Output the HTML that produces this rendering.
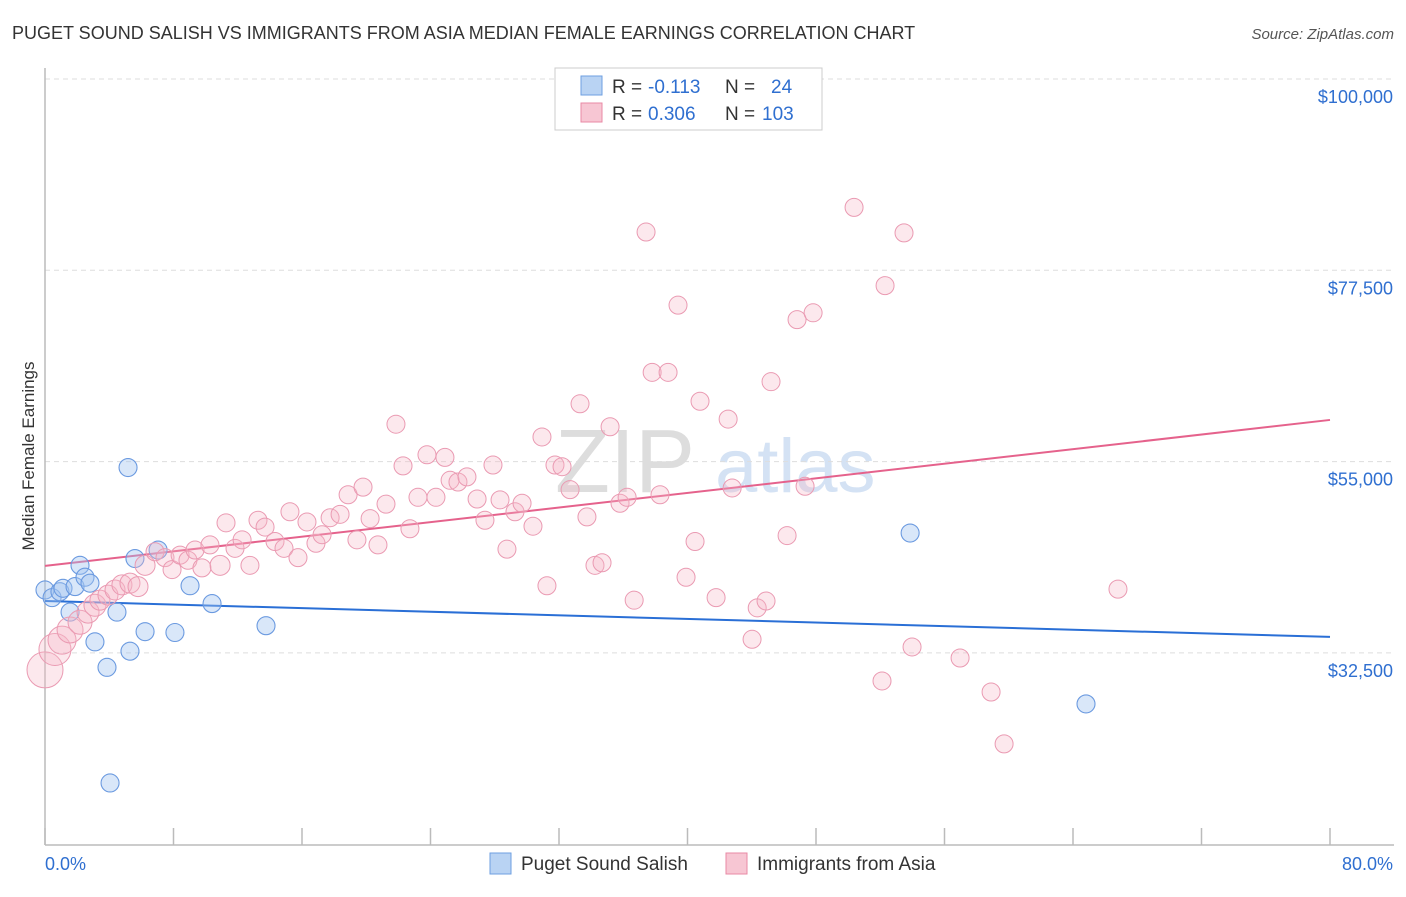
<!DOCTYPE html>
<html><head><meta charset="utf-8"><style>
body{margin:0;background:#fff;font-family:"Liberation Sans",sans-serif;}
svg text{font-family:"Liberation Sans",sans-serif;}
</style></head><body>
<svg id="chart" width="1406" height="892" xmlns="http://www.w3.org/2000/svg">
<text x="12" y="39" font-size="18" fill="#333">PUGET SOUND SALISH VS IMMIGRANTS FROM ASIA MEDIAN FEMALE EARNINGS CORRELATION CHART</text>
<text x="1394" y="39" font-size="15" fill="#555" text-anchor="end" font-style="italic">Source: ZipAtlas.com</text>
<text transform="translate(34,456) rotate(-90)" font-size="17" fill="#333" text-anchor="middle">Median Female Earnings</text>
<g><text x="555" y="492" font-size="90" fill="#ddd" font-family="Liberation Serif">ZIP</text><text x="715" y="492" font-size="76" fill="#d4e2f4">atlas</text></g>
<g id="grid"></g><g id="axes"></g><g id="trend"></g><g id="pts"></g>
<g>
<rect x="555" y="68" width="267" height="62" fill="#fff" stroke="#ccc"/>
<rect x="581" y="76" width="21" height="19" fill="#b9d3f3" stroke="#6e9fe0"/>
<text x="612" y="93" font-size="19" fill="#333">R =</text>
<text x="648" y="93" font-size="19" fill="#2f6fd0">-0.113</text>
<text x="725" y="93" font-size="19" fill="#333">N =</text>
<text x="771" y="93" font-size="19" fill="#2f6fd0">24</text>
<rect x="581" y="103" width="21" height="19" fill="#f7c6d3" stroke="#e889a5"/>
<text x="612" y="120" font-size="19" fill="#333">R =</text>
<text x="648" y="120" font-size="19" fill="#2f6fd0">0.306</text>
<text x="725" y="120" font-size="19" fill="#333">N =</text>
<text x="762" y="120" font-size="19" fill="#2f6fd0">103</text>
</g>
<g>
<rect x="490" y="853" width="21" height="21" fill="#b9d3f3" stroke="#6e9fe0"/>
<text x="521" y="870" font-size="19" fill="#333">Puget Sound Salish</text>
<rect x="726" y="853" width="21" height="21" fill="#f7c6d3" stroke="#e889a5"/>
<text x="757" y="870" font-size="19" fill="#333">Immigrants from Asia</text>
</g>
<text x="45" y="870" font-size="18" fill="#2f6fd0">0.0%</text>
<text x="1393" y="870" font-size="18" fill="#2f6fd0" text-anchor="end">80.0%</text>
</svg>
<script>
const yTicks=[32500,55000,77500,100000];
const yTickLabels=["$32,500","$55,000","$77,500","$100,000"];
const xTicks=[0,8,16,24,32,40,48,56,64,72,80];
const blueX=[0,0.44,0.93,1.12,1.56,1.87,2.18,2.49,2.80,3.11,3.86,4.05,4.48,5.29,5.17,5.60,6.23,7.04,8.09,9.03,10.40,13.76,53.86,64.81];
const blueY=[39.9,39.0,39.7,40.1,37.3,40.3,42.8,41.4,40.7,33.8,30.8,17.2,37.3,32.7,54.3,43.6,35.0,44.6,34.9,40.4,38.3,35.7,46.6,26.5];
const pinkX=[0,.62,1.06,1.56,2.18,2.68,3.11,3.42,3.92,4.36,4.79,5.29,5.79,6.23,6.85,7.47,7.91,8.41,8.90,9.34,9.77,10.27,10.90,11.27,11.83,12.27,12.76,13.26,13.70,14.32,14.88,15.25,15.75,16.31,16.87,17.25,17.75,18.37,18.87,19.42,19.80,20.24,20.73,21.23,21.85,22.29,22.72,23.22,23.78,24.34,24.90,25.22,25.71,26.27,26.90,27.39,27.89,28.33,28.76,29.26,29.70,30.38,30.94,31.25,31.75,32.19,32.69,33.31,33.74,34.24,34.68,35.18,35.80,36.24,36.68,37.42,37.80,38.29,38.79,39.41,39.91,40.47,40.78,41.78,42.53,42.78,44.02,44.34,44.89,45.20,46.20,46.82,47.32,47.82,50.37,52.11,52.30,53.48,53.98,56.97,58.90,59.71,66.80];
const pinkY=[30.5,32.9,34.0,35.2,36.1,37.3,38.1,38.7,39.3,39.9,40.5,40.7,40.3,42.8,44.4,43.7,42.3,44.0,43.4,44.6,42.5,45.2,42.8,47.8,44.8,45.8,42.8,48.1,47.3,45.6,44.8,49.1,43.7,47.9,45.4,46.4,48.4,48.8,51.1,45.8,52.0,48.3,45.2,50.0,59.4,54.5,47.1,50.8,55.8,50.8,55.5,52.8,52.6,53.2,50.6,48.1,54.6,50.5,44.7,49.1,50.1,47.4,57.9,40.4,54.6,54.4,51.7,61.8,48.5,42.8,43.1,59.1,50.1,50.8,38.7,82.0,65.5,51.1,65.5,73.4,41.4,45.6,62.1,39.0,60.0,51.9,34.1,37.8,38.6,64.4,46.3,71.7,52.1,72.5,84.9,29.2,75.7,81.9,33.2,31.9,27.9,21.8,40.0];
const pinkR=[18,16,14,13,12,11,11,10,10,10,10,10,10,10,9,9,9,9,9,9,9,9,10];
const blueTrend=[[0,38.61],[80,34.38]];
const pinkTrend=[[0,42.73],[80,59.90]];
const X=v=>45+v/80*1285;
const Y=v=>79+(100-v)/22.5*191.3;
const NS="http://www.w3.org/2000/svg";
function mk(p,t,a){const e=document.createElementNS(NS,t);for(const k in a)e.setAttribute(k,a[k]);document.getElementById(p).appendChild(e);return e;}
yTicks.forEach((t,i)=>{
 const l=mk('grid','line',{x1:45,x2:1394,y1:Y(t/1000),y2:Y(t/1000),stroke:'#ddd','stroke-dasharray':'5,4'});
 
 
 const tx=mk('grid','text',{x:1393,y:Y(t/1000)+24,'font-size':18,fill:'#2f6fd0','text-anchor':'end'});
 tx.textContent=yTickLabels[i];
 
 
});
const ax=mk('axes','line',{x1:45,x2:45,y1:68,y2:845,stroke:'#bbb','stroke-width':1.5});


const bx=mk('axes','line',{x1:45,x2:1394,y1:845,y2:845,stroke:'#bbb','stroke-width':1.5});


xTicks.forEach(t=>{
 const l=mk('axes','line',{x1:X(t),x2:X(t),y1:828,y2:845,stroke:'#bbb','stroke-width':1.5});
 
 
});
blueX.forEach((x,i)=>{
 const c=mk('pts','circle',{cx:X(x),cy:Y(blueY[i]),r:9,fill:'rgba(160,196,240,0.4)',stroke:'#6b9ae0','stroke-width':1.1});
 
 
});
pinkX.forEach((x,i)=>{
 const c=mk('pts','circle',{cx:X(x),cy:Y(pinkY[i]),r:pinkR[i]||9,fill:'rgba(246,182,200,0.32)',stroke:'#ea9ab2','stroke-width':1});
 
 
});
const bt=mk('trend','line',{x1:X(blueTrend[0][0]),y1:Y(blueTrend[0][1]),x2:X(blueTrend[1][0]),y2:Y(blueTrend[1][1]),stroke:'#2a6fd6','stroke-width':2});


const pt=mk('trend','line',{x1:X(pinkTrend[0][0]),y1:Y(pinkTrend[0][1]),x2:X(pinkTrend[1][0]),y2:Y(pinkTrend[1][1]),stroke:'#e5628c','stroke-width':2});


</script>
</body></html>
